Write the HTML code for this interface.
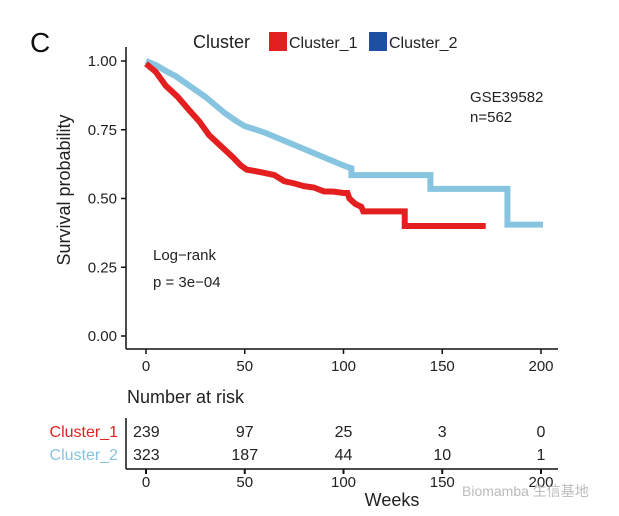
<!DOCTYPE html>
<html><head><meta charset="utf-8">
<style>
body{margin:0;background:#fff;}
svg{display:block;font-family:"Liberation Sans",Arial,sans-serif;}
</style></head>
<body>
<svg id="chart" width="619" height="516" viewBox="0 0 619 516">
<text x="30" y="52" font-size="28" fill="#111">C</text>
<g>
<text x="193" y="48" font-size="18" fill="#222">Cluster</text>
<rect x="269" y="32" width="18" height="19" fill="#e3201f"/>
<text x="289" y="48" font-size="16" fill="#222">Cluster_1</text>
<rect x="369" y="32" width="18" height="19" fill="#1f4fa3"/>
<text x="389" y="48" font-size="16" fill="#222">Cluster_2</text>
</g>
<text x="470" y="102" font-size="15" fill="#222">GSE39582</text>
<text x="470" y="122" font-size="15" fill="#222">n=562</text>
<text x="153" y="260" font-size="15" fill="#222">Log−rank</text>
<text x="153" y="287" font-size="15" fill="#222">p = 3e−04</text>
<text transform="translate(70,190) rotate(-90)" text-anchor="middle" font-size="18" fill="#222">Survival probability</text>
<g id="axes"></g>
<g id="curves"></g>
<text x="127" y="403" font-size="18" fill="#222">Number at risk</text>
<text x="118" y="437" font-size="16" fill="#e3201f" text-anchor="end">Cluster_1</text>
<text x="118" y="460" font-size="16" fill="#87c4e0" text-anchor="end">Cluster_2</text>
<g id="risk"></g>
<text x="392" y="506" font-size="18" fill="#222" text-anchor="middle">Weeks</text>
<text x="462" y="496" font-size="14" fill="#bbb">Biomamba 生信基地</text>
</svg>
<script>
const xTicks=[0,50,100,150,200];
const yTicks=[0,0.25,0.5,0.75,1];
const yTickLabels=["0.00","0.25","0.50","0.75","1.00"];
const c1Times=[0,5,10,16,22,27,32,38,44,48,51,55,60,65,70,75,80,85,90,95,100,102,103,106,109,110,131,131,172];
const c1Surv=[0.99,0.96,0.91,0.87,0.82,0.78,0.73,0.69,0.65,0.62,0.605,0.60,0.593,0.585,0.563,0.555,0.545,0.54,0.526,0.525,0.52,0.52,0.50,0.48,0.47,0.453,0.453,0.40,0.40];
const c2Times=[0,5,10,15,20,25,30,35,40,45,50,55,60,65,70,75,80,85,90,95,100,104,104,144,144,183,183,201];
const c2Surv=[1.0,0.985,0.964,0.945,0.92,0.895,0.87,0.84,0.81,0.785,0.763,0.752,0.74,0.725,0.71,0.695,0.68,0.665,0.65,0.635,0.62,0.61,0.585,0.585,0.535,0.535,0.405,0.405];
const risk1=[239,97,25,3,0];
const risk2=[323,187,44,10,1];
const NS="http://www.w3.org/2000/svg";
const X=w=>146+w*(541-146)/200;
const Y=s=>336-s*(336-61);
function mk(tag,attrs,parent,text){const e=document.createElementNS(NS,tag);for(const k in attrs)e.setAttribute(k,attrs[k]);if(text!==undefined)e.textContent=text;parent.appendChild(e);return e;}
const ax=document.getElementById('axes');
let l=mk('line',{x1:126,y1:47,x2:126,y2:349,stroke:'#111','stroke-width':1.5},ax);


l=mk('line',{x1:126,y1:349,x2:558,y2:349,stroke:'#111','stroke-width':1.5},ax);


yTicks.forEach((v,i)=>{
 const t=mk('line',{x1:121,x2:126,y1:Y(v),y2:Y(v),stroke:'#111','stroke-width':1.5},ax);
 
 
 const tx=mk('text',{x:117,y:Y(v)+5,'font-size':15,'text-anchor':'end',fill:'#222'},ax,yTickLabels[i]);
 
 
});
xTicks.forEach(v=>{
 const t=mk('line',{x1:X(v),x2:X(v),y1:349,y2:354,stroke:'#111','stroke-width':1.5},ax);
 
 
 const tx=mk('text',{x:X(v),y:371,'font-size':15,'text-anchor':'middle',fill:'#222'},ax,String(v));
 
 
});
function linePath(ts,ss){let d='M'+X(ts[0])+','+Y(ss[0]);for(let i=1;i<ts.length;i++){d+=' L'+X(ts[i])+','+Y(ss[i]);}return d;}
const cv=document.getElementById('curves');
let p=mk('path',{d:linePath(c2Times,c2Surv),fill:'none',stroke:'#87c4e0','stroke-width':6},cv);


p=mk('path',{d:linePath(c1Times,c1Surv),fill:'none',stroke:'#e3201f','stroke-width':6},cv);


const rk=document.getElementById('risk');
l=mk('line',{x1:126,y1:418,x2:126,y2:469,stroke:'#111','stroke-width':1.5},rk);


l=mk('line',{x1:126,y1:469,x2:558,y2:469,stroke:'#111','stroke-width':1.5},rk);


xTicks.forEach((v,i)=>{
 const t=mk('line',{x1:X(v),x2:X(v),y1:469,y2:474,stroke:'#111','stroke-width':2},rk);
 
 
 const tl=mk('text',{x:X(v),y:487,'font-size':15,'text-anchor':'middle',fill:'#222'},rk,String(v));
 
 
 const a=mk('text',{x:X(v),y:437,'font-size':16,'text-anchor':i===0?'start':'middle',fill:'#222'},rk,String(risk1[i]));
 if(i===0)a.setAttribute('x',X(v)-13);
 
 
 const b=mk('text',{x:X(v),y:460,'font-size':16,'text-anchor':i===0?'start':'middle',fill:'#222'},rk,String(risk2[i]));
 if(i===0)b.setAttribute('x',X(v)-13);
 
 
});
</script>
</body></html>
